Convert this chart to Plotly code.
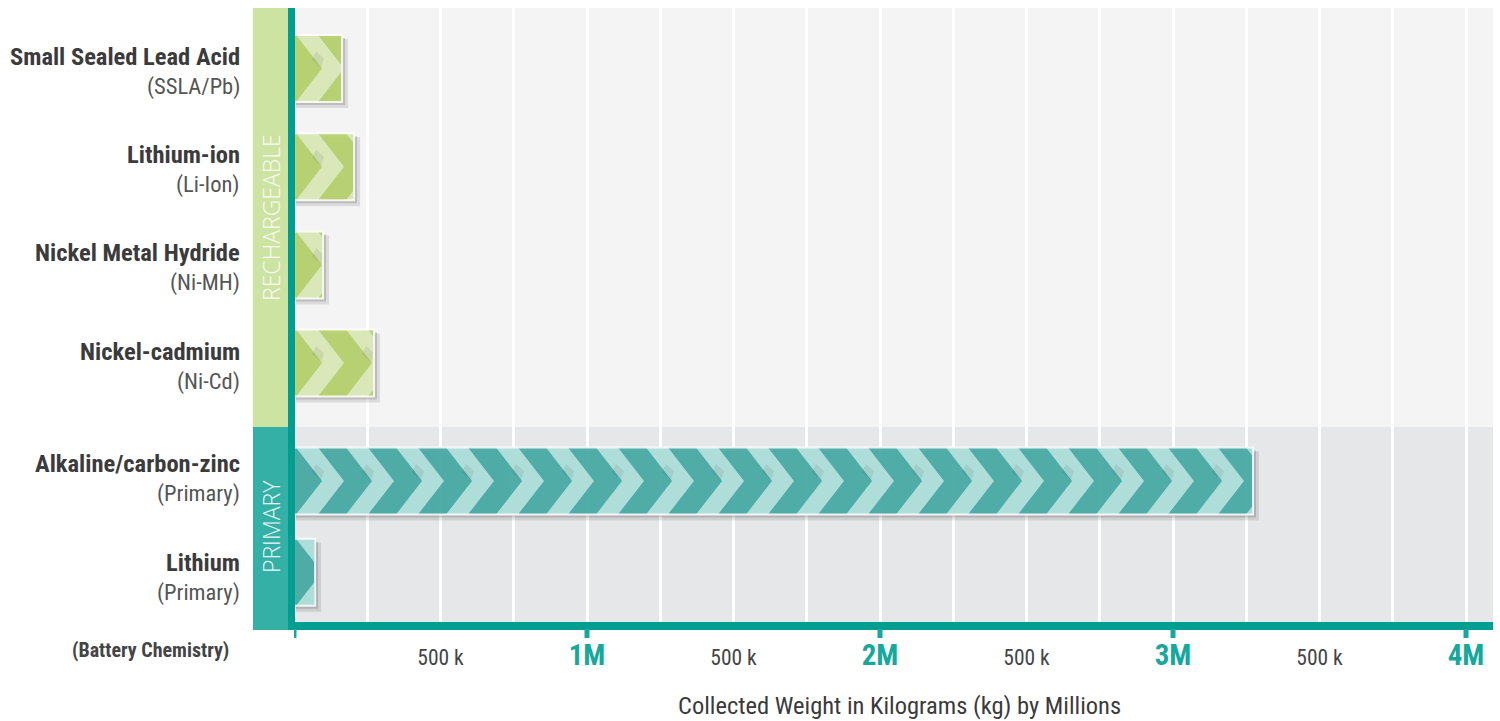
import plotly.graph_objects as go

# ---------------- data ----------------
CHEM_NAMES = ["Small Sealed Lead Acid", "Lithium-ion", "Nickel Metal Hydride",
              "Nickel-cadmium", "Alkaline/carbon-zinc", "Lithium"]
CHEM_CODES = ["(SSLA/Pb)", "(Li-Ion)", "(Ni-MH)", "(Ni-Cd)", "(Primary)", "(Primary)"]
CHEM_GROUP = ["RECHARGEABLE", "RECHARGEABLE", "RECHARGEABLE", "RECHARGEABLE",
              "PRIMARY", "PRIMARY"]
WEIGHT_KG = [164000, 205000, 99000, 273000, 3273000, 72000]

X_TICK_VALUES = [500000, 1000000, 1500000, 2000000, 2500000, 3000000, 3500000, 4000000]
X_TICK_TEXT = ["500 k", "1M", "500 k", "2M", "500 k", "3M", "500 k", "4M"]
MAJOR_TICKS = [0, 1000000, 2000000, 3000000, 4000000]

# ---------------- layout constants ----------------
W, H = 1500, 721
L, R, T, B = 294, 1493, 8, 622          # plot area in pixels
PW, PH = R - L, B - T
PX_PER_UNIT_X = 293 / 1e6                 # pixels per kg
XMAX = PW / PX_PER_UNIT_X
ROW_SLOTS = [0, 1, 2, 3, 4.2, 5.13]       # vertical slot of each row
LABEL_SHIFT = [0, 0, 0, 0, 5, -2]         # small pixel nudges of the row labels
YU, Y0PX = 98.2, 68.5                     # px per slot, px of slot 0
YTOP = (T - Y0PX) / YU
YBOT = (B - Y0PX) / YU
SPLIT = (427 - Y0PX) / YU
BAR_H_PX = 67
BAR_W = BAR_H_PX / YU

FONT_N = "Liberation Sans Narrow, Roboto Condensed, DejaVu Sans Condensed, Arial Narrow, sans-serif"

COLORS = {
    "RECHARGEABLE": dict(bar="#b7d26d", stripe="#dbe8bd", band="#cde3a2"),
    "PRIMARY": dict(bar="#48aba5", stripe="#b3dfdc", band="#35b0a7"),
}
AXIS_COLOR = "#009d91"
TICK_COLOR = "#17a89d"


def xd(px):      # pixel -> data x
    return (px - L) / PX_PER_UNIT_X


def px_of_x(v):
    return L + v * PX_PER_UNIT_X


def yd(py):      # pixel -> data y
    return (py - Y0PX) / YU


def py_of_y(v):
    return Y0PX + v * YU


def paper_x(px):
    return (px - L) / PW


def paper_y(py):
    return (B - py) / PH


def clip_poly(poly, xmin, xmax):
    def clip(pts, inside, inter):
        out = []
        n = len(pts)
        for i in range(n):
            cur, prev = pts[i], pts[i - 1]
            if inside(cur):
                if not inside(prev):
                    out.append(inter(prev, cur))
                out.append(cur)
            elif inside(prev):
                out.append(inter(prev, cur))
        return out

    def ix(xc):
        def f(p, q):
            t = (xc - p[0]) / (q[0] - p[0])
            return (xc, p[1] + t * (q[1] - p[1]))
        return f

    pts = clip(poly, lambda p: p[0] >= xmin, ix(xmin))
    if not pts:
        return []
    pts = clip(pts, lambda p: p[0] <= xmax, ix(xmax))
    return pts


fig = go.Figure()

bar_colors = [COLORS[g]["bar"] for g in CHEM_GROUP]
fig.add_trace(go.Bar(
    x=WEIGHT_KG, y=ROW_SLOTS, orientation="h", width=BAR_W,
    marker=dict(color=bar_colors, line=dict(width=0)),
    opacity=0.94, hoverinfo="skip", showlegend=False,
))

shapes = []
# background regions
shapes.append(dict(type="rect", layer="below", xref="paper", yref="y", x0=0, x1=1,
                   y0=YTOP, y1=SPLIT, fillcolor="#f4f4f4", line=dict(width=0)))
shapes.append(dict(type="rect", layer="below", xref="paper", yref="y", x0=0, x1=1,
                   y0=SPLIT, y1=YBOT, fillcolor="#e6e7e9", line=dict(width=0)))
# left group bands
shapes.append(dict(type="rect", layer="above", xref="paper", yref="paper",
                   x0=paper_x(253), x1=paper_x(289), y0=paper_y(427), y1=1,
                   fillcolor=COLORS["RECHARGEABLE"]["band"], line=dict(width=0)))
shapes.append(dict(type="rect", layer="above", xref="paper", yref="paper",
                   x0=paper_x(253), x1=paper_x(289), y0=paper_y(630), y1=paper_y(427),
                   fillcolor=COLORS["PRIMARY"]["band"], line=dict(width=0)))

PERIOD, SW, SS = 50, 22, 26
for v, slot, g in zip(WEIGHT_KG, ROW_SLOTS, CHEM_GROUP):
    cy = py_of_y(slot)
    top, bot = cy - BAR_H_PX / 2, cy + BAR_H_PX / 2
    xend = px_of_x(v)
    # drop shadow
    for off, alpha, grow in [(3, 0.10, 3), (2, 0.14, 1)]:
        shapes.append(dict(type="rect", layer="between", xref="x", yref="y",
                           x0=xd(L + 2), x1=xd(xend + off + grow),
                           y0=yd(top + off + 1), y1=yd(bot + off + grow),
                           fillcolor=f"rgba(0,0,0,{alpha})", line=dict(width=0)))
    # chevrons
    a = L + 2
    while a < xend:
        poly = [(a, top), (a + SW, top), (a + SW + SS, cy), (a + SW, bot), (a, bot), (a + SS, cy)]
        cp = clip_poly(poly, L, xend - 1)
        if len(cp) >= 3:
            path = "M " + " L ".join(f"{xd(px)},{yd(py)}" for px, py in cp) + " Z"
            shapes.append(dict(type="path", layer="above", xref="x", yref="y", path=path,
                               fillcolor=COLORS[g]["stripe"], opacity=0.95, line=dict(width=0)))
        # fold shading near the notch
        nx = a + SS
        if nx - 12 > L and nx < xend:
            fold = [(nx - 1, cy - 1), (nx - 10, cy - 9), (nx - 6, cy - 17), (nx + 2, cy - 10)]
            fold = clip_poly(fold, L, xend - 1)
            if len(fold) >= 3:
                path = "M " + " L ".join(f"{xd(px)},{yd(py)}" for px, py in fold) + " Z"
                shapes.append(dict(type="path", layer="above", xref="x", yref="y", path=path,
                                   fillcolor="rgba(0,0,0,0.07)", line=dict(width=0)))
        a += PERIOD
    # light border
    shapes.append(dict(type="rect", layer="above", xref="x", yref="y",
                       x0=0, x1=v, y0=slot - BAR_W / 2, y1=slot + BAR_W / 2,
                       fillcolor="rgba(0,0,0,0)", line=dict(color="rgba(255,255,255,0.85)", width=2)))

# axis lines
shapes.append(dict(type="rect", layer="above", xref="paper", yref="paper",
                   x0=paper_x(288), x1=paper_x(295), y0=paper_y(630), y1=1,
                   fillcolor=AXIS_COLOR, line=dict(width=0)))
shapes.append(dict(type="rect", layer="above", xref="paper", yref="paper",
                   x0=paper_x(288), x1=1, y0=paper_y(630), y1=paper_y(622),
                   fillcolor=AXIS_COLOR, line=dict(width=0)))
for tv in MAJOR_TICKS:
    tx = max(px_of_x(tv), 291.5)
    shapes.append(dict(type="rect", layer="above", xref="x", yref="paper",
                       x0=xd(tx - 2.5), x1=xd(tx + 2.5), y0=paper_y(638), y1=paper_y(629),
                       fillcolor=TICK_COLOR, line=dict(width=0)))

annotations = []
for name, code, slot, ls in zip(CHEM_NAMES, CHEM_CODES, ROW_SLOTS, LABEL_SHIFT):
    annotations.append(dict(xref="x", yref="y", x=0, y=slot, xshift=-52, yshift=12 + ls,
                            xanchor="right", yanchor="middle", showarrow=False,
                            text=f"<b>{name}</b>",
                            font=dict(family=FONT_N, size=24.5, color="#3b3b3b")))
    annotations.append(dict(xref="x", yref="y", x=0, y=slot, xshift=-52, yshift=-18 + ls,
                            xanchor="right", yanchor="middle", showarrow=False,
                            text=code,
                            font=dict(family=FONT_N, size=22.5, color="#555555")))

BAND_FONT = dict(family="Open Sans, Roboto, sans-serif", size=23, weight=300,
                 color="rgba(255,255,255,0.9)")
annotations.append(dict(xref="paper", yref="paper", x=paper_x(271), y=paper_y(218),
                        text="RECHARGEABLE", textangle=-90, showarrow=False,
                        xanchor="center", yanchor="middle", font=BAND_FONT))
annotations.append(dict(xref="paper", yref="paper", x=paper_x(271), y=paper_y(527),
                        text="PRIMARY", textangle=-90, showarrow=False,
                        xanchor="center", yanchor="middle", font=BAND_FONT))
annotations.append(dict(xref="paper", yref="paper", x=paper_x(231), y=paper_y(650),
                        text="<b>(Battery Chemistry)</b>", showarrow=False,
                        xanchor="right", yanchor="middle",
                        font=dict(family=FONT_N, size=20, color="#444444")))
annotations.append(dict(xref="paper", yref="paper", x=paper_x(899), y=paper_y(705),
                        text="Collected Weight in Kilograms (kg) by Millions", showarrow=False,
                        xanchor="center", yanchor="middle",
                        font=dict(family=FONT_N, size=24.5, color="#3a3a3a")))

tick_text = []
for t in X_TICK_TEXT:
    if t.endswith("M"):
        tick_text.append(f"<span style='font-size:29px;color:{TICK_COLOR}'><b>{t}</b></span>")
    else:
        tick_text.append(t)

fig.update_layout(
    width=W, height=H,
    margin=dict(l=L, r=W - R, t=T, b=H - B),
    paper_bgcolor="white", plot_bgcolor="white",
    bargap=0, showlegend=False,
    shapes=shapes, annotations=annotations,
    xaxis=dict(range=[0, XMAX], tickvals=X_TICK_VALUES, ticktext=tick_text,
               showgrid=True, gridcolor="white", gridwidth=3,
               minor=dict(dtick=250000, tick0=0, showgrid=True, gridcolor="white", gridwidth=3),
               zeroline=False, showline=False, ticks="", ticklabelstandoff=20,
               tickfont=dict(family=FONT_N, size=21.5, color="#444444"), fixedrange=True),
    yaxis=dict(range=[YBOT, YTOP], showgrid=False, zeroline=False, showticklabels=False,
               showline=False, ticks="", fixedrange=True),
)

fig.write_html("out.html")
